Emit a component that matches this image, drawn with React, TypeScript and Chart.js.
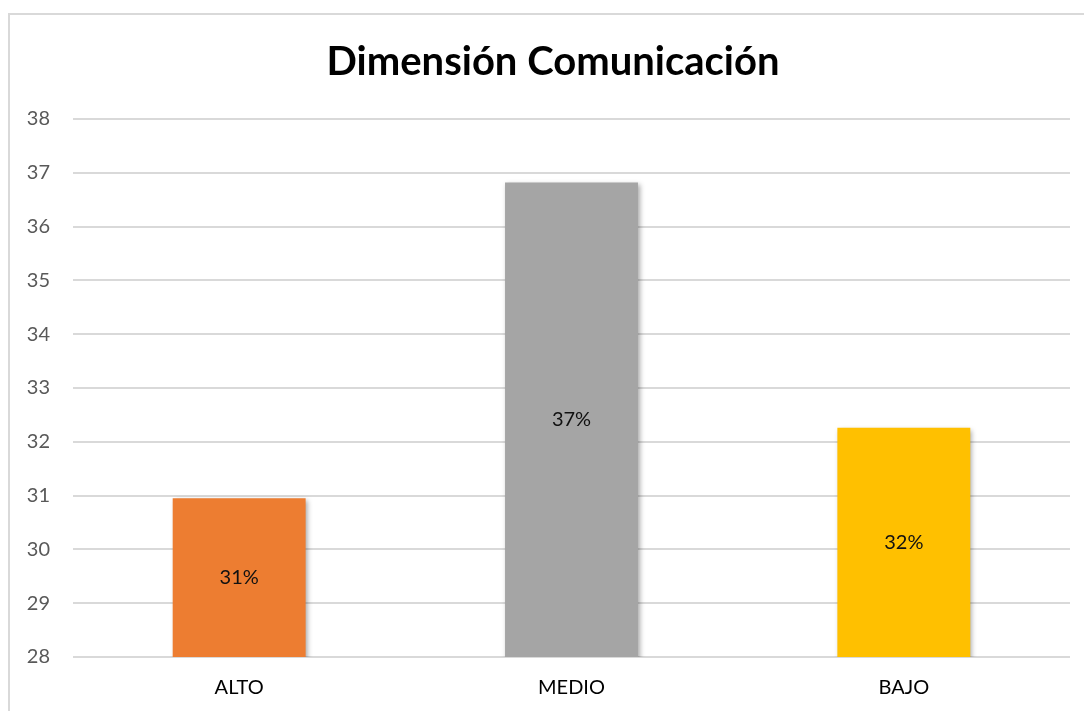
import React, { useEffect, useRef } from "react";
import { Chart, registerables } from "chart.js";

Chart.register(...registerables);

const categories = ["ALTO", "MEDIO", "BAJO"];
const values = [30.95, 36.82, 32.26];
const valueLabels = ["31%", "37%", "32%"];
const barColors = ["#ED7D31", "#A5A5A5", "#FFC000"];
const yMin = 28;
const yMax = 38;
const titleText = "Dimensión Comunicación";

const FONT = "Lato, 'Open Sans', sans-serif";

export default function App() {
  const ref = useRef<HTMLCanvasElement | null>(null);

  useEffect(() => {
    if (!ref.current) return;
    const framePlugin = {
      id: "frame",
      beforeDraw(chart: any) {
        const ctx = chart.ctx;
        ctx.save();
        ctx.fillStyle = "#ffffff";
        ctx.fillRect(0, 0, chart.width, chart.height);
        ctx.strokeStyle = "#D9D9D9";
        ctx.lineWidth = 2;
        ctx.beginPath();
        ctx.moveTo(9, chart.height);
        ctx.lineTo(9, 14);
        ctx.lineTo(chart.width, 14);
        ctx.stroke();
        ctx.fillStyle = "#000000";
        ctx.font = `bold 40px ${FONT}`;
        ctx.textAlign = "center";
        ctx.textBaseline = "middle";
        ctx.fillText(titleText, 553, 62);
        ctx.restore();
      },
    };
    const shadowPlugin = {
      id: "barShadow",
      beforeDatasetsDraw(chart: any) {
        const ctx = chart.ctx;
        ctx.save();
        ctx.shadowColor = "rgba(0,0,0,0.35)";
        ctx.shadowBlur = 5;
        ctx.shadowOffsetX = 2;
        ctx.shadowOffsetY = 2;
      },
      afterDatasetsDraw(chart: any) {
        chart.ctx.restore();
      },
      afterDraw(chart: any) {
        const ctx = chart.ctx;
        ctx.save();
        ctx.shadowColor = "rgba(0,0,0,0)";
        ctx.fillStyle = "#111111";
        ctx.font = `20px ${FONT}`;
        ctx.textAlign = "center";
        ctx.textBaseline = "middle";
        const meta = chart.getDatasetMeta(0);
        const yScale = chart.scales.y;
        meta.data.forEach((bar: any, i: number) => {
          const top = yScale.getPixelForValue(values[i]);
          const base = yScale.getPixelForValue(yMin);
          ctx.fillText(valueLabels[i], bar.x, (top + base) / 2);
        });
        ctx.restore();
      },
    };
    const chart = new Chart(ref.current, {
      type: "bar",
      data: {
        labels: categories,
        datasets: [
          {
            data: values,
            backgroundColor: barColors,
            borderWidth: 0,
            categoryPercentage: 1,
            barPercentage: 0.4,
          },
        ],
      },
      options: {
        animation: false,
        responsive: false,
        maintainAspectRatio: false,
        layout: { padding: { left: 0, top: 119, right: 14, bottom: 0 } },
        plugins: {
          legend: { display: false },
          title: { display: false },
          tooltip: { enabled: false },
        },
        scales: {
          x: {
            grid: { display: false, drawTicks: false },
            border: { display: false },
            ticks: {
              color: "#000000",
              font: { family: FONT, size: 20 },
              padding: 19,
            },
            afterFit(scale: any) {
              scale.height = 54;
            },
          },
          y: {
            min: yMin,
            max: yMax,
            grid: { color: "#D9D9D9", lineWidth: 2, drawTicks: false },
            border: { display: false },
            ticks: {
              stepSize: 1,
              color: "#595959",
              font: { family: FONT, size: 20 },
              padding: 23,
            },
            afterFit(scale: any) {
              scale.width = 73;
            },
          },
        },
      },
      plugins: [framePlugin, shadowPlugin],
    });
    return () => chart.destroy();
  }, []);

  return (
    <div style={{ position: "fixed", left: 0, top: 0, width: 1084, height: 711, background: "#fff" }}>
      <canvas ref={ref} width={1084} height={711} style={{ display: "block" }} />
    </div>
  );
}
